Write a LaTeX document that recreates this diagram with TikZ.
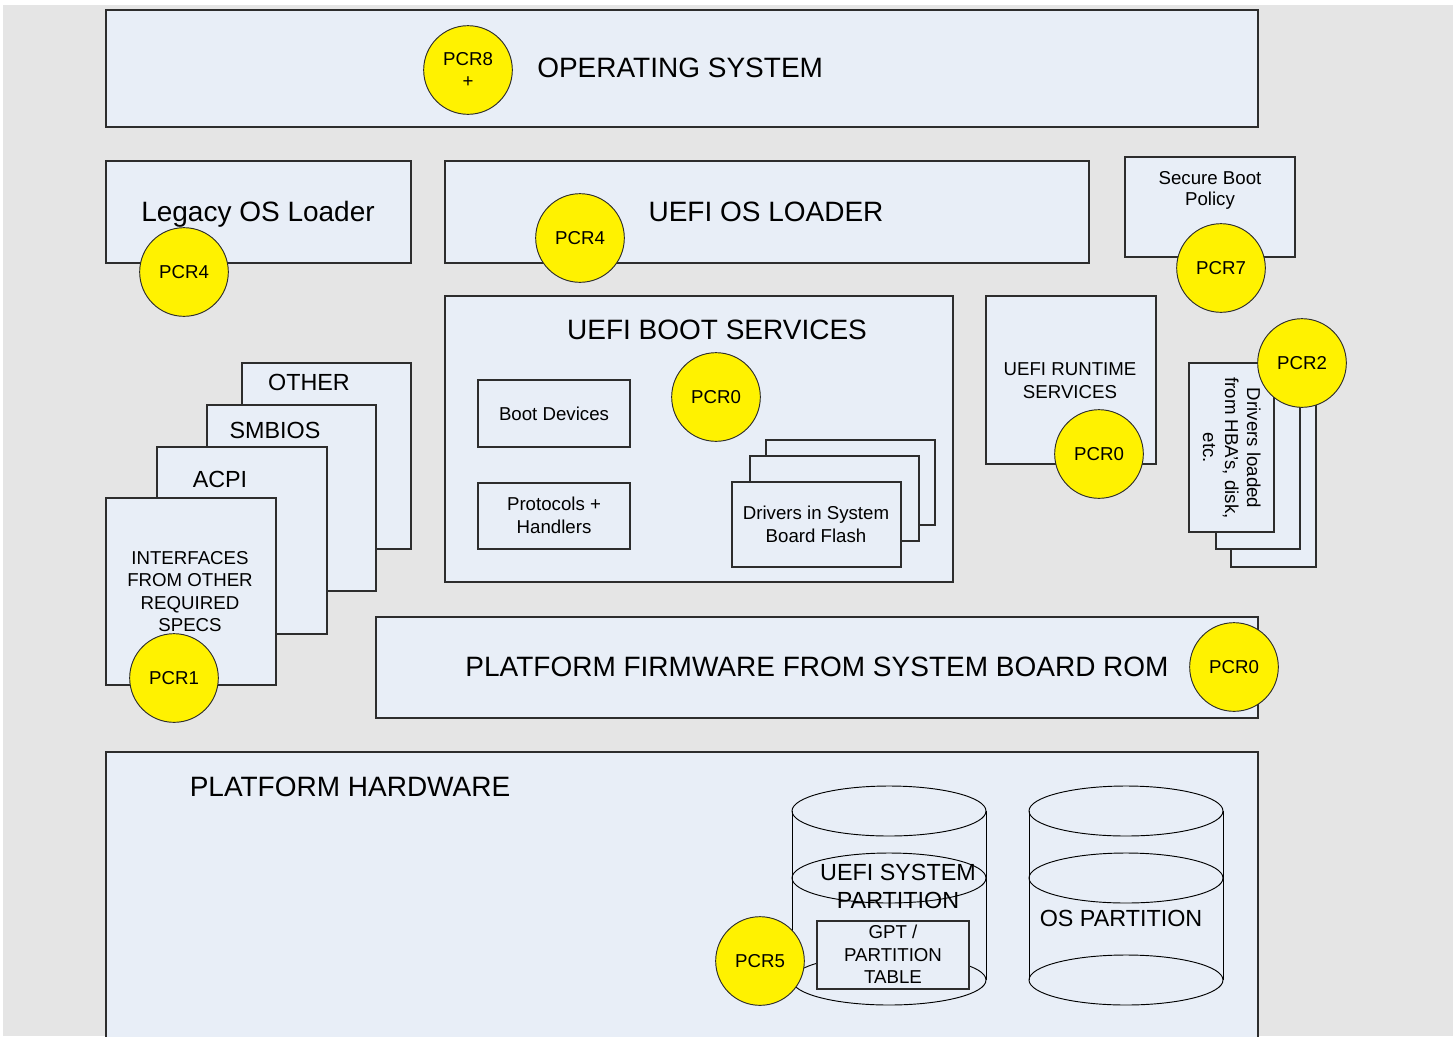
\documentclass[tikz,border=0pt]{standalone}
\usepackage{fontspec}
\setmainfont{Liberation Sans}
\definecolor{boxblue}{RGB}{232,238,247}
\definecolor{bggray}{RGB}{229,229,229}
\definecolor{edge}{RGB}{45,45,45}
\begin{document}
\begin{tikzpicture}[x=0.75pt,y=-0.75pt,
  bx/.style={fill=boxblue, draw=edge, line width=0.9pt},
  cylline/.style={draw=black, line width=0.7pt},
  pcr/.style={circle, fill=yellow, draw=edge, line width=0.7pt, minimum size=66.5pt, inner sep=0pt, align=center, font=\fontsize{14}{16.5}\selectfont},
  big/.style={font=\fontsize{21}{25}\selectfont, inner sep=0pt, anchor=base},
  med/.style={font=\fontsize{17.5}{21}\selectfont, inner sep=0pt, anchor=base},
  sml/.style={font=\fontsize{14}{17}\selectfont, inner sep=0pt, anchor=base}]
\useasboundingbox (0,0) rectangle (1453,1036);
\clip (0,0) rectangle (1453,1036);
\fill[white] (0,0) rectangle (1453,1036);
\fill[bggray] (3,5) rectangle (1453,1036);

% Operating system
\draw[bx] (106,10) rectangle (1258,127);
\node[big, anchor=base west] (os) at (537,77) {OPERATING SYSTEM};
\node[pcr] (p8) at (468,70) {PCR8\\+};

% Legacy OS loader
\draw[bx] (106,161) rectangle (411,263);
\node[big] (legacy) at (258,221) {Legacy OS Loader};
\node[pcr] (p4a) at (184,272) {PCR4};

% UEFI OS loader
\draw[bx] (445,161) rectangle (1089,263);
\node[big] (uefiosl) at (766,221) {UEFI OS LOADER};
\node[pcr] (p4b) at (580,238) {PCR4};

% Secure boot policy
\draw[bx] (1125,157) rectangle (1295,257);
\node[sml] (sb1) at (1210,184) {Secure Boot};
\node[sml] (sb2) at (1210,205) {Policy};
\node[pcr] (p7) at (1221,268) {PCR7};

% UEFI boot services
\draw[bx] (445,296) rectangle (953,582);
\node[big] (ubs) at (717,339) {UEFI BOOT SERVICES};
\node[pcr] (p0a) at (716,397) {PCR0};
\draw[bx] (478,380) rectangle (630,447);
\node[sml] (bootdev) at (554,420) {Boot Devices};
\draw[bx] (478,483) rectangle (630,549);
\node[sml] (proto1) at (554,510) {Protocols +};
\node[sml] (proto2) at (554,533) {Handlers};
\draw[bx] (766,440) rectangle (935,525);
\draw[bx] (750,456) rectangle (919,541);
\draw[bx] (732,482) rectangle (901,567);
\node[sml] (drv1) at (816,519) {Drivers in System};
\node[sml] (drv2) at (816,542) {Board Flash};

% UEFI runtime services
\draw[bx] (986,296) rectangle (1156,464);
\node[sml] (rt1) at (1070,375) {UEFI RUNTIME};
\node[sml] (rt2) at (1070,398) {SERVICES};
\node[pcr] (p0b) at (1099,454) {PCR0};

% Drivers loaded from HBAs
\draw[bx] (1231,395) rectangle (1316,567);
\draw[bx] (1216,380) rectangle (1300,549);
\draw[bx] (1189,363) rectangle (1274,532);
\node[sml, rotate=-90] (hba1) at (1247,448) {Drivers loaded};
\node[sml, rotate=-90] (hba2) at (1225,448) {from HBA's, disk,};
\node[sml, rotate=-90] (hba3) at (1203,448) {etc.};
\node[pcr] (p2) at (1302,363) {PCR2};

% Left stack of specs
\draw[bx] (242,363) rectangle (411,549);
\node[med] (other) at (309,390) {OTHER};
\draw[bx] (207,405) rectangle (376,591);
\node[med] (smbios) at (275,438) {SMBIOS};
\draw[bx] (157,447) rectangle (327,634);
\node[med] (acpi) at (220,487) {ACPI};
\draw[bx] (106,498) rectangle (276,685);
\node[sml] (if1) at (190,564) {INTERFACES};
\node[sml] (if2) at (190,586) {FROM OTHER};
\node[sml] (if3) at (190,609) {REQUIRED};
\node[sml] (if4) at (190,631) {SPECS};
\node[pcr] (p1) at (174,678) {PCR1};

% Platform firmware
\draw[bx] (376,617) rectangle (1258,718);
\node[big] (pfw) at (817,676) {PLATFORM FIRMWARE FROM SYSTEM BOARD ROM};
\node[pcr] (p0c) at (1234,667) {PCR0};

% Platform hardware
\draw[bx] (106,752) rectangle (1258,1045);
\node[big] (phw) at (350,796) {PLATFORM HARDWARE};

% UEFI system partition cylinder
\fill[boxblue] (792,811) rectangle (986,980);
\fill[boxblue] (889,980) ellipse [x radius=72.75pt, y radius=18.75pt];
\fill[boxblue] (889,811) ellipse [x radius=72.75pt, y radius=18.75pt];
\draw[cylline] (792,811) -- (792,980) (986,811) -- (986,980);
\draw[cylline] (889,811) ellipse [x radius=72.75pt, y radius=18.75pt];
\draw[cylline] (889,878) ellipse [x radius=72.75pt, y radius=18.75pt];
\draw[cylline] (889,980) ellipse [x radius=72.75pt, y radius=18.75pt];
\node[med] (esp1) at (898,880) {UEFI SYSTEM};
\node[med] (esp2) at (898,908) {PARTITION};
\draw[bx, line width=0.8pt] (817,921) rectangle (969,989);
\node[sml] (gpt1) at (893,938) {GPT /};
\node[sml] (gpt2) at (893,961) {PARTITION};
\node[sml] (gpt3) at (893,983) {TABLE};
\node[pcr] (p5) at (760,961) {PCR5};

% OS partition cylinder
\fill[boxblue] (1029,811) rectangle (1223,980);
\fill[boxblue] (1126,980) ellipse [x radius=72.75pt, y radius=18.75pt];
\fill[boxblue] (1126,811) ellipse [x radius=72.75pt, y radius=18.75pt];
\draw[cylline] (1029,811) -- (1029,980) (1223,811) -- (1223,980);
\draw[cylline] (1126,811) ellipse [x radius=72.75pt, y radius=18.75pt];
\draw[cylline] (1126,878) ellipse [x radius=72.75pt, y radius=18.75pt];
\draw[cylline] (1126,980) ellipse [x radius=72.75pt, y radius=18.75pt];
\node[med] (osp) at (1121,926) {OS PARTITION};
\end{tikzpicture}
\end{document}
